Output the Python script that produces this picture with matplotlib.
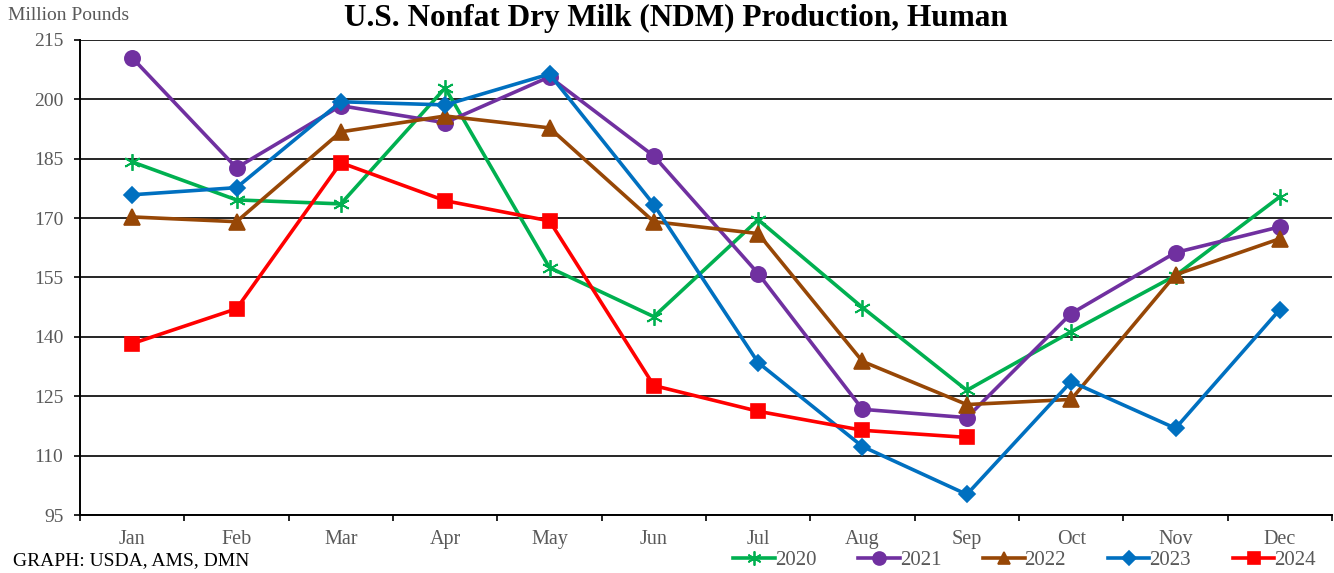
import numpy as np
import matplotlib.pyplot as plt
from matplotlib.ticker import FixedLocator, NullFormatter

plt.rcParams['font.family'] = ['Liberation Serif', 'DejaVu Serif']

months = ['Jan', 'Feb', 'Mar', 'Apr', 'May', 'Jun', 'Jul', 'Aug', 'Sep', 'Oct', 'Nov', 'Dec']
y2020 = [184.2, 174.6, 173.6, 202.9, 157.5, 145.1, 169.6, 147.4, 126.5, 141.3, 155.5, 175.4]
y2021 = [210.5, 182.7, 198.4, 194.1, 205.7, 185.7, 156.0, 121.7, 119.6, 145.9, 161.3, 167.8]
y2022 = [170.3, 169.1, 191.8, 195.8, 192.8, 169.1, 166.1, 133.8, 122.9, 124.2, 155.7, 164.8]
y2023 = [175.9, 177.7, 199.4, 198.6, 206.4, 173.4, 133.5, 112.3, 100.2, 128.7, 116.9, 146.9]
y2024 = [138.3, 147.1, 184.0, 174.4, 169.3, 127.7, 121.2, 116.4, 114.6]
yticks = [95, 110, 125, 140, 155, 170, 185, 200, 215]

# label, data, colour, marker, marker size
series = [
    ('2020', y2020, '#00B050', (6, 2, 0), 12),
    ('2021', y2021, '#7030A0', 'o', 11),
    ('2022', y2022, '#974706', '^', 11),
    ('2023', y2023, '#0070C0', 'D', 8),
    ('2024', y2024, '#FF0000', 's', 10),
]

gray = '#595959'

fig = plt.figure(figsize=(13.34, 5.73), dpi=100)
ax = fig.add_axes([80/1334, 58/573, 1252/1334, 475/573])

for lab, vals, col, mk, ms in series:
    x = np.arange(len(vals))
    ax.plot(x, vals, color=col, lw=2.6, marker=mk, markersize=ms,
            markeredgewidth=1.2 if mk != (6, 2, 0) else 1.3,
            markeredgecolor=col, markerfacecolor=col, label=lab, zorder=3)

ax.set_xlim(-0.5, 11.5)
ax.set_ylim(95, 215)
ax.set_yticks(yticks)
ax.yaxis.grid(True, color='black', lw=1.2, zorder=0)
ax.tick_params(axis='y', length=4, width=1.2, colors='black', labelcolor=gray,
               labelsize=14, pad=8)

# category labels in the middle, tick marks on the boundaries
ax.xaxis.set_major_locator(FixedLocator(np.arange(-0.5, 12, 1)))
ax.xaxis.set_major_formatter(NullFormatter())
ax.xaxis.set_minor_locator(FixedLocator(np.arange(12)))
ax.set_xticklabels(months, minor=True)
ax.tick_params(axis='x', which='major', length=4, width=1.2, direction='out')
ax.tick_params(axis='x', which='minor', length=0, labelcolor=gray, labelsize=14.5, pad=11)

for s in ['top', 'right']:
    ax.spines[s].set_visible(False)
for s in ['left', 'bottom']:
    ax.spines[s].set_linewidth(1.4)

fig.text(676/1334, 1 - 18/573, 'U.S. Nonfat Dry Milk (NDM) Production, Human',
         ha='center', va='center', fontsize=22.5, fontweight='bold')
fig.text(8/1334, 1 - 16/573, 'Million Pounds', ha='left', va='center',
         fontsize=14, color=gray)
fig.text(13/1334, 1 - 561/573, 'GRAPH: USDA, AMS, DMN', ha='left', va='center',
         fontsize=14, color='black')

leg = fig.legend(loc='center right', bbox_to_anchor=(1316/1334, 1 - 560/573), ncol=5,
                 frameon=False, fontsize=15, handlelength=2.0, handletextpad=0.0,
                 columnspacing=2.0, borderaxespad=0, borderpad=0)
for t in leg.get_texts():
    t.set_color(gray)
for h in leg.legend_handles:
    h.set_markersize(h.get_markersize() * 0.85)

fig.savefig('out.png', dpi=100)
